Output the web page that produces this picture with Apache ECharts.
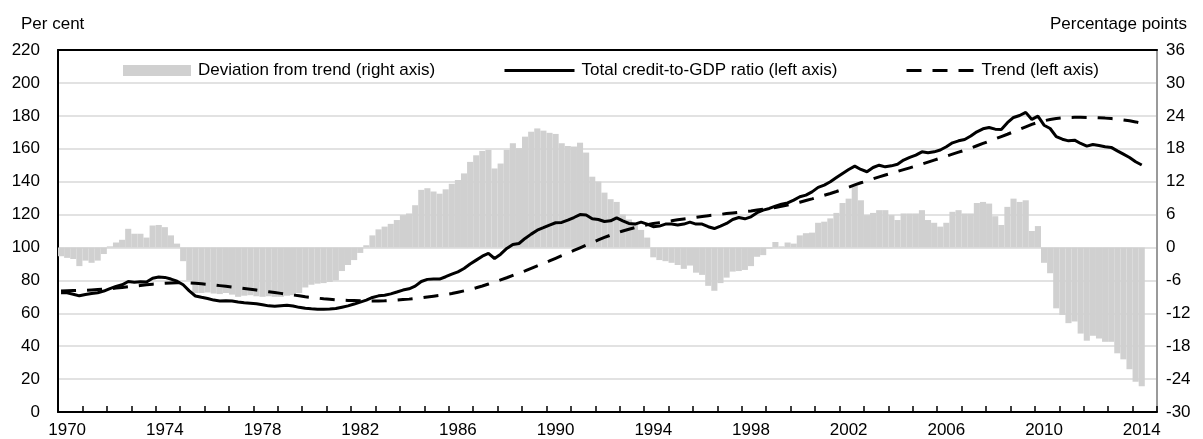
<!DOCTYPE html>
<html>
<head>
<meta charset="utf-8">
<script src="https://cdn.jsdelivr.net/npm/echarts@6/dist/echarts.min.js"></script>
<style>
html,body{margin:0;padding:0;background:#fff;}
#chart{width:1203px;height:439px;}
</style>
</head>
<body>
<div id="chart"></div>
<script>
// Quarterly categories 1970Q1 .. 2014Q4
const startYear = 1970;
const endYear = 2014;
const quarters = [];
for (let y = startYear; y <= endYear; y++) {
  for (let q = 1; q <= 4; q++) quarters.push(y + 'Q' + q);
}

// Total credit-to-GDP ratio (left axis, per cent), 1970Q1 .. 2014Q2
const credit = [
  72.5, 72.4, 71.6, 70.6, 71.4, 72.0, 72.5, 73.5, 75.0, 76.3, 77.3, 79.3, 78.8, 79.2, 79.0, 81.3, 82.0, 81.8, 80.8, 79.5,
  77.3, 73.6, 70.5, 69.7, 69.0, 68.0, 67.5, 67.6, 67.4, 66.8, 66.4, 66.1, 65.8, 65.2, 64.5, 64.2, 64.6, 64.9, 64.4, 63.6,
  63.0, 62.7, 62.5, 62.4, 62.6,
  62.9, 63.7, 64.5, 65.6, 66.8, 68.0, 69.6, 70.6, 71.0, 71.8, 72.9, 74.1, 74.9, 76.5, 79.3, 80.6, 80.8, 80.8, 82.2, 83.8,
  85.2, 87.2, 89.9, 92.3, 94.7, 96.4, 93.3, 95.9, 99.4, 101.8, 102.4, 105.5, 108.1, 110.5, 112.0, 113.6, 115.0, 115.2, 116.6, 118.2,
  120.0, 119.7, 117.4, 117.0, 115.8,
  116.2, 118.0, 116.2, 114.6, 114.2, 115.4, 114.2, 112.6, 113.0, 114.2, 114.2, 113.6, 114.2, 115.4, 114.2, 114.2, 112.6, 111.5, 113.0, 114.6,
  117.0, 118.2, 117.4, 118.6, 121.1, 122.7, 123.7, 125.1, 126.3, 127.1, 128.8, 130.8, 131.8, 133.8, 136.5, 137.9, 139.9, 142.5, 145.0, 147.4,
  149.4, 147.4, 146.0, 148.6, 150.0,
  149.0, 149.6, 150.6, 153.1, 154.7, 156.1, 158.1, 157.5, 158.1, 159.2, 161.2, 163.6, 164.8, 165.6, 167.7, 170.3, 172.1, 172.9, 171.9, 171.7,
  175.8, 179.0, 180.2, 182.1, 177.8, 179.8, 174.3, 172.3, 167.3, 165.8, 164.8, 165.2, 163.2, 161.6, 162.6, 162.0, 161.2, 160.8, 158.7, 156.7,
  154.7, 152.1, 150.1
];

// Trend (left axis, per cent)
const trend = [
  73.5, 73.7, 73.8, 73.9, 74.0, 74.2, 74.4, 74.6, 74.9, 75.3, 75.7, 76.1, 76.5, 76.9, 77.3, 77.7, 78.0, 78.2, 78.4, 78.5,
  78.5, 78.4, 78.2, 77.9, 77.6, 77.2, 76.8, 76.4, 76.0, 75.6, 75.1, 74.6, 74.1, 73.6, 73.1, 72.6, 72.1, 71.6, 71.1, 70.6,
  70.0, 69.6, 69.2, 68.8, 68.5, 68.2, 68.0, 67.8, 67.7, 67.6, 67.5, 67.5, 67.5, 67.6, 67.8, 68.0, 68.3, 68.6, 69.0, 69.4,
  69.9, 70.4, 70.9, 71.4,
  72.0, 72.8, 73.6, 74.5, 75.5, 76.6, 77.8, 79.0, 80.3, 81.6, 83.0, 84.4, 85.8, 87.3, 88.8, 90.3, 91.8, 93.4, 95.0, 96.6,
  98.2, 99.8, 101.4, 103.0, 104.6, 106.1, 107.5, 108.8, 110.0, 111.1, 112.1, 113.0, 113.8, 114.5, 115.1, 115.7,
  116.2, 116.8, 117.3, 117.8, 118.3, 118.8, 119.3, 119.7, 120.1, 120.6, 121.0, 121.4, 121.8, 122.2, 122.7, 123.2, 123.7, 124.3, 125.0, 125.8,
  126.6, 127.5, 128.5, 129.5, 130.6, 131.7, 132.8, 134.0, 135.3, 136.6, 138.0, 139.3, 140.5, 141.7, 142.9,
  144.0, 145.1, 146.2, 147.3, 148.4, 149.5, 150.7, 151.9, 153.1, 154.3, 155.5, 156.7, 157.9, 159.1, 160.4, 161.8, 163.2, 164.6, 166.0, 167.4,
  168.8, 170.3, 171.8, 173.3, 174.8, 176.0, 177.0, 177.8, 178.4, 178.8, 179.0, 179.1, 179.1, 179.0, 178.9, 178.8, 178.6, 178.3, 178.0, 177.5,
  177.0, 176.3, 175.5
];

// Deviation from trend (right axis, percentage points)
const deviation = [
  -1.6, -1.9, -2.1, -3.4, -2.4, -2.8, -2.4, -1.2, 0.2, 0.9, 1.4, 3.4, 2.5, 2.5, 1.8, 4.0, 4.1, 3.7, 2.2, 0.7,
  -2.5, -6.0, -8.3, -8.3, -8.2, -8.4, -8.5, -8.3, -8.6, -9.0, -8.8, -8.7, -8.9, -9.0, -8.9, -9.0, -9.0, -8.8, -8.7, -8.3,
  -7.3, -6.8, -6.6, -6.5, -6.3,
  -6.0, -4.3, -3.2, -2.3, -1.0, 0.4, 2.2, 3.3, 3.8, 4.3, 5.0, 5.9, 6.2, 7.7, 10.5, 10.8, 10.2, 9.8, 10.6, 11.6,
  12.3, 13.5, 15.6, 16.8, 17.6, 17.8, 14.4, 15.3, 17.8, 19.0, 18.1, 20.2, 21.1, 21.7, 21.3, 20.9, 20.7, 19.0, 18.5, 18.4,
  19.1, 17.3, 12.9, 12.0, 10.0,
  8.8, 8.3, 6.0, 5.1, 4.3, 3.2, 1.8, -1.8, -2.3, -2.5, -2.8, -3.2, -3.9, -3.3, -4.6, -5.0, -7.0, -7.9, -6.5, -5.5,
  -4.4, -4.3, -4.1, -3.4, -1.7, -1.4, -0.2, 1.0, 0.2, 0.9, 0.7, 2.2, 2.6, 2.7, 4.5, 4.7, 5.3, 6.3, 8.1, 8.9,
  11.2, 8.6, 5.9, 6.3, 6.8,
  6.8, 5.9, 5.0, 6.2, 6.2, 6.2, 6.8, 5.0, 4.5, 3.8, 4.5, 6.5, 6.8, 6.2, 6.2, 8.1, 8.3, 8.0, 5.7, 4.1,
  7.4, 8.9, 8.3, 8.6, 3.0, 3.9, -2.8, -4.7, -11.1, -12.3, -13.8, -13.5, -15.7, -17.0, -16.1, -16.6, -17.2, -17.2, -19.3, -20.4,
  -22.2, -24.5, -25.3
];

const leftTicks = { min: 0, max: 220, interval: 20 };
const rightTicks = { min: -30, max: 36, interval: 6 };

const FONT = '"Liberation Sans", Arial, sans-serif';
const chart = echarts.init(document.getElementById('chart'), null, { renderer: 'canvas' });

const legendCommon = {
  top: 62, padding: 0, itemHeight: 11, selectedMode: false,
  textStyle: { fontSize: 17, color: '#000', fontFamily: FONT, padding: [0, 0, 0, 2] }
};

chart.setOption({
  animation: false,
  backgroundColor: '#fff',
  textStyle: { fontFamily: FONT },
  grid: { left: 58, right: 46, top: 50, bottom: 27, containLabel: false },
  legend: [
    Object.assign({}, legendCommon, { left: 123, itemWidth: 68, data: [{ name: 'Deviation from trend (right axis)', icon: 'rect' }] }),
    Object.assign({}, legendCommon, { left: 503, itemWidth: 70, itemStyle: { opacity: 0 }, lineStyle: { width: 3 }, data: ['Total credit-to-GDP ratio (left axis)'] }),
    Object.assign({}, legendCommon, { left: 905, itemWidth: 68, itemStyle: { opacity: 0 }, lineStyle: { width: 3 }, data: ['Trend (left axis)'] })
  ],
  graphic: [
    { type: 'text', left: 21, top: 16, style: { text: 'Per cent', font: '17px ' + FONT, fill: '#000' } },
    { type: 'text', right: 16, top: 16, style: { text: 'Percentage points', font: '17px ' + FONT, fill: '#000' } }
  ],
  xAxis: [
    {
      type: 'category', data: quarters, boundaryGap: true, position: 'bottom',
      axisLine: { onZero: false, lineStyle: { color: '#000', width: 2 } },
      axisTick: { show: true, interval: 3, inside: true, length: 6, lineStyle: { color: '#000', width: 1.5 } },
      axisLabel: {
        interval: function (i) { return i % 16 === 1; },
        formatter: function (v) { return v.slice(0, 4); },
        color: '#000', fontSize: 17, fontFamily: FONT, margin: 10
      },
      splitLine: { show: false }
    },
    {
      type: 'category', data: quarters, boundaryGap: true, position: 'top',
      axisLine: { onZero: false, lineStyle: { color: '#000', width: 2 } },
      axisTick: { show: false }, axisLabel: { show: false }, splitLine: { show: false }
    }
  ],
  yAxis: [
    {
      type: 'value', position: 'left', min: leftTicks.min, max: leftTicks.max, interval: leftTicks.interval,
      axisLine: { show: true, onZero: false, lineStyle: { color: '#000', width: 2 } },
      axisTick: { show: false },
      axisLabel: { color: '#000', fontSize: 17, fontFamily: FONT, margin: 18 },
      splitLine: { show: true, lineStyle: { color: '#d9d9d9', width: 1.5 } }
    },
    {
      type: 'value', position: 'right', min: rightTicks.min, max: rightTicks.max, interval: rightTicks.interval,
      axisLine: { show: true, onZero: false, lineStyle: { color: '#9a9a9a', width: 2 } },
      axisTick: { show: false },
      axisLabel: { color: '#000', fontSize: 17, fontFamily: FONT, margin: 9 },
      splitLine: { show: false }
    }
  ],
  series: [
    {
      name: 'Deviation from trend (right axis)', type: 'bar', xAxisIndex: 0, yAxisIndex: 1,
      data: deviation, barWidth: '100%', barCategoryGap: 0,
      itemStyle: { color: '#d0d0d0' }, z: 1
    },
    {
      name: 'Total credit-to-GDP ratio (left axis)', type: 'line', xAxisIndex: 0, yAxisIndex: 0,
      data: credit, symbol: 'none', showSymbol: false,
      lineStyle: { color: '#000', width: 3 }, itemStyle: { color: '#000' }, z: 3
    },
    {
      name: 'Trend (left axis)', type: 'line', xAxisIndex: 0, yAxisIndex: 0,
      data: trend, symbol: 'none', showSymbol: false,
      lineStyle: { color: '#000', width: 3, type: [15, 11] }, itemStyle: { color: '#000' }, z: 2
    }
  ]
});
</script>
</body>
</html>
